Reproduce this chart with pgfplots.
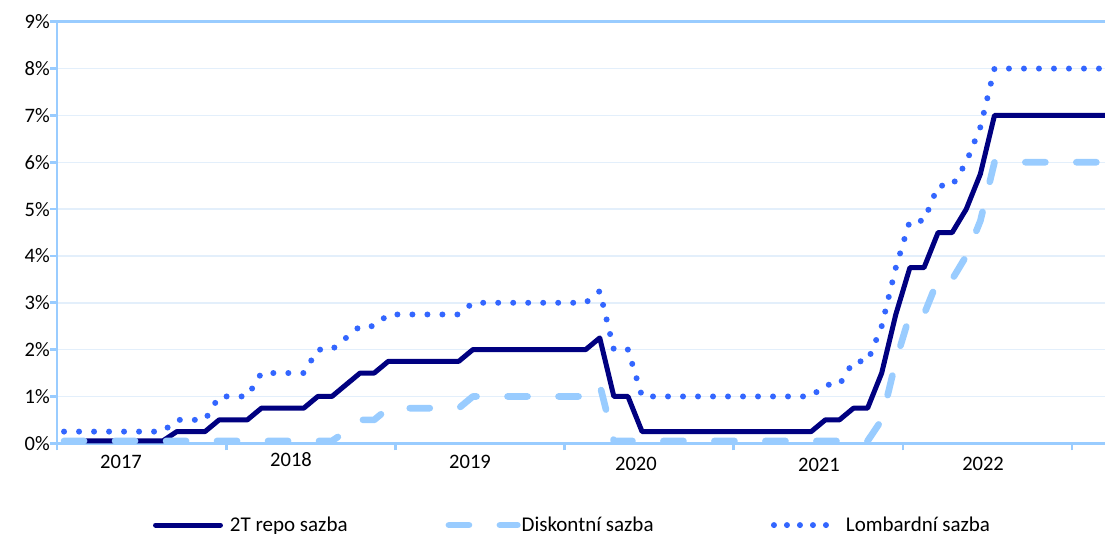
\documentclass[border=0pt]{standalone}
\usepackage{pgfplots}
\usepackage{pgfplotstable}
\pgfplotsset{compat=1.18}
\usepackage{fontspec}
\setmainfont{Carlito}
\definecolor{repoc}{HTML}{000080}
\definecolor{diskc}{HTML}{99CCFF}
\definecolor{lombc}{HTML}{3366FF}
\definecolor{axisblue}{HTML}{99CCFF}
\definecolor{gridc}{HTML}{E3EFFB}

\pgfplotstableread{
k repo disk lomb
0 0.05 0.05 0.25
1 0.05 0.05 0.25
2 0.05 0.05 0.25
3 0.05 0.05 0.25
4 0.05 0.05 0.25
5 0.05 0.05 0.25
6 0.05 0.05 0.25
7 0.05 0.05 0.25
8 0.25 0.05 0.50
9 0.25 0.05 0.50
10 0.25 0.05 0.50
11 0.50 0.05 1.00
12 0.50 0.05 1.00
13 0.50 0.05 1.00
14 0.75 0.05 1.50
15 0.75 0.05 1.50
16 0.75 0.05 1.50
17 0.75 0.05 1.50
18 1.00 0.05 2.00
19 1.00 0.05 2.00
20 1.25 0.25 2.25
21 1.50 0.50 2.50
22 1.50 0.50 2.50
23 1.75 0.75 2.75
24 1.75 0.75 2.75
25 1.75 0.75 2.75
26 1.75 0.75 2.75
27 1.75 0.75 2.75
28 1.75 0.75 2.75
29 2.00 1.00 3.00
30 2.00 1.00 3.00
31 2.00 1.00 3.00
32 2.00 1.00 3.00
33 2.00 1.00 3.00
34 2.00 1.00 3.00
35 2.00 1.00 3.00
36 2.00 1.00 3.00
37 2.00 1.00 3.00
38 2.25 1.25 3.25
39 1.00 0.05 2.00
40 1.00 0.05 2.00
41 0.25 0.05 1.00
42 0.25 0.05 1.00
43 0.25 0.05 1.00
44 0.25 0.05 1.00
45 0.25 0.05 1.00
46 0.25 0.05 1.00
47 0.25 0.05 1.00
48 0.25 0.05 1.00
49 0.25 0.05 1.00
50 0.25 0.05 1.00
51 0.25 0.05 1.00
52 0.25 0.05 1.00
53 0.25 0.05 1.00
54 0.50 0.05 1.25
55 0.50 0.05 1.25
56 0.75 0.05 1.75
57 0.75 0.05 1.75
58 1.50 0.50 2.50
59 2.75 1.75 3.75
60 3.75 2.75 4.75
61 3.75 2.75 4.75
62 4.50 3.50 5.50
63 4.50 3.50 5.50
64 5.00 4.00 6.00
65 5.75 4.75 6.75
66 7.00 6.00 8.00
67 7.00 6.00 8.00
68 7.00 6.00 8.00
69 7.00 6.00 8.00
70 7.00 6.00 8.00
71 7.00 6.00 8.00
72 7.00 6.00 8.00
73 7.00 6.00 8.00
74 7.00 6.00 8.00
}\rates

\begin{document}
\begin{tikzpicture}
\path[use as bounding box] (0,0) rectangle (828.75pt,399.75pt);
\begin{axis}[
  at={(42.75pt,67.28pt)}, anchor=south west,
  scale only axis, width=786pt, height=316.2pt,
  xmin=-0.5, xmax=73.84, ymin=0, ymax=9,
  clip=false,
  axis x line*=bottom, axis y line*=left,
  axis line style={draw=axisblue, line width=2pt, shorten >=0pt, shorten <=0pt},
  tick style={draw=axisblue, line width=2pt},
  tick align=outside, major tick length=5.25pt,
  xtick={-0.5,11.5,23.5,35.5,47.5,59.5,71.5},
  xticklabels={},
  ytick={0,1,2,3,4,5,6,7,8},
  yticklabels={0\%,1\%,2\%,3\%,4\%,5\%,6\%,7\%,8\%},
  extra y ticks={9},
  extra y tick labels={9\%},
  extra y tick style={grid style={draw=axisblue, line width=2pt}},
  ymajorgrids,
  grid style={draw=gridc, line width=1.1pt},
  yticklabel style={anchor=east, inner sep=0pt, font=\fontsize{15.4pt}{18pt}\selectfont},
  legend columns=3,
  legend cell align=left,
  legend style={draw=none, fill=none, inner sep=0pt, outer sep=0pt,
    at={(axis description cs:0.0916,-0.194)}, anchor=west,
    nodes={inner sep=0pt, font=\fontsize{15.75pt}{18pt}\selectfont},
    /tikz/every even column/.append style={column sep=73.5pt}},
]
\addplot[repoc, line width=3.75pt, line join=round,
  legend image code/.code={\path[draw=none] (0pt,0pt) -- (57.75pt,0pt);
    \draw[repoc, line width=3.75pt, line cap=round, solid] (1.9pt,0pt) -- (50.6pt,0pt);}]
  table[x=k, y=repo] {\rates};
\addlegendentry{2T repo sazba}
\addplot[diskc, line width=5pt, line join=round, line cap=round, dash pattern=on 15pt off 23.25pt,
  legend image code/.code={\path[draw=none] (0pt,0pt) -- (57pt,0pt);
    \draw[diskc, line width=5pt, line cap=round, dash pattern=on 15pt off 23.25pt] (2.5pt,0pt) -- (53.8pt,0pt);}]
  table[x=k, y=disk] {\rates};
\addlegendentry{Diskontní sazba}
\addplot[lombc, line width=4.5pt, line join=round, line cap=round, dash pattern=on 0pt off 11.25pt,
  legend image code/.code={\path[draw=none] (-10pt,0pt) -- (60.75pt,0pt);
    \draw[lombc, line width=4.5pt, line cap=round, dash pattern=on 0pt off 9.75pt] (6.75pt,0pt) -- (46pt,0pt);}]
  table[x=k, y=lomb] {\rates};
\addlegendentry{Lombardní sazba}
\begin{scope}[every node/.style={inner sep=0pt, anchor=center, font=\fontsize{15.4pt}{18pt}\selectfont}]
\node at (axis cs:4.04,0) [yshift=-14.0pt] {2017};
\node at (axis cs:16.10,0) [yshift=-12.5pt] {2018};
\node at (axis cs:28.80,0) [yshift=-14.0pt] {2019};
\node at (axis cs:40.57,0) [yshift=-15.2pt] {2020};
\node at (axis cs:53.55,0) [yshift=-16.3pt] {2021};
\node at (axis cs:65.19,0) [yshift=-15.2pt] {2022};
\end{scope}
\end{axis}
\end{tikzpicture}
\end{document}
